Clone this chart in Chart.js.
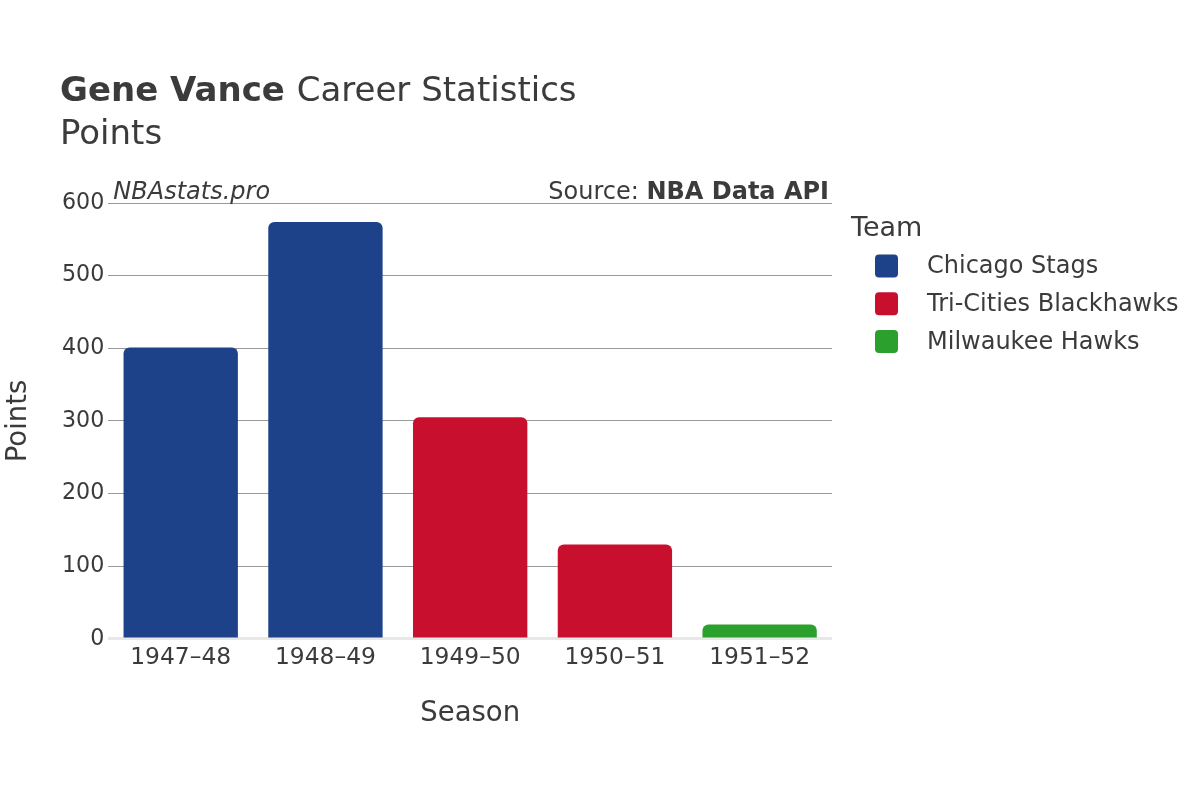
<!DOCTYPE html>
<html>
<head>
<meta charset="utf-8">
<script src="https://cdn.jsdelivr.net/npm/chart.js@4.4.1/dist/chart.umd.min.js"></script>
<style>
  html, body { margin: 0; padding: 0; background: #fff; }
  #wrap { width: 1200px; height: 800px; position: relative; }
</style>
</head>
<body>
<div id="wrap"><canvas id="pointsChart"></canvas></div>
<script>
// Datos del gráfico
const seasons = ['1947\u201348', '1948\u201349', '1949\u201350', '1950\u201351', '1951\u201352'];
const teams = ['Chicago Stags', 'Tri-Cities Blackhawks', 'Milwaukee Hawks'];
const teamColors = ['#1d428a', '#c8102e', '#2ca02c'];
const chicagoPoints = [401, 574, null, null, null];
const triCitiesPoints = [null, null, 305, 130, null];
const milwaukeePoints = [null, null, null, null, 20];
const yTicks = [0, 100, 200, 300, 400, 500, 600];

const FONT = "'DejaVu Sans', sans-serif";
const TEXT = '#3b3b3b';

// Título, marcas de agua y leyenda dibujados a mano
const extrasPlugin = {
  id: 'extras',
  afterDraw(chart) {
    const c = chart.ctx;
    const area = chart.chartArea;
    c.save();
    c.fillStyle = TEXT;
    c.textBaseline = 'alphabetic';
    c.textAlign = 'left';

    // título
    c.font = 'bold 34px ' + FONT;
    c.fillText('Gene Vance', 60, 101);
    const w = c.measureText('Gene Vance ').width;
    c.font = '34px ' + FONT;
    c.fillText('Career Statistics', 60 + w, 101);
    c.fillText('Points', 60, 144);

    // marcas
    c.font = 'italic 24px ' + FONT;
    c.fillText('NBAstats.pro', area.left + 5, 199);
    c.textAlign = 'right';
    c.font = 'bold 24px ' + FONT;
    const srcBold = 'NBA Data API';
    c.fillText(srcBold, area.right - 3, 199);
    const bw = c.measureText(srcBold).width;
    c.font = '24px ' + FONT;
    c.fillText('Source: ', area.right - 3 - bw, 199);

    // leyenda
    c.textAlign = 'left';
    c.font = '27px ' + FONT;
    c.fillText('Team', 851, 236);
    c.font = '24px ' + FONT;
    c.textBaseline = 'middle';
    teams.forEach((name, i) => {
      const cy = 266 + i * 37.7;
      c.fillStyle = teamColors[i];
      c.beginPath();
      c.roundRect(875, cy - 11.5, 23, 23, 4);
      c.fill();
      c.fillStyle = TEXT;
      c.fillText(name, 927, cy + 1);
    });
    c.restore();
  }
};

const seriesValues = [chicagoPoints, triCitiesPoints, milwaukeePoints];

new Chart(document.getElementById('pointsChart'), {
  type: 'bar',
  data: {
    labels: seasons,
    datasets: teams.map((t, i) => ({
      label: t,
      data: seriesValues[i],
      backgroundColor: teamColors[i],
      borderRadius: 6,
      borderSkipped: 'start',
      barPercentage: 0.79,
      categoryPercentage: 1.0
    }))
  },
  options: {
    responsive: true,
    maintainAspectRatio: false,
    animation: false,
    layout: { padding: { top: 203, right: 368, left: 0, bottom: 66 } },
    plugins: {
      legend: { display: false },
      tooltip: { enabled: false }
    },
    scales: {
      x: {
        stacked: true,
        grid: { display: false, drawTicks: false },
        border: { display: false },
        ticks: { color: TEXT, font: { family: FONT, size: 23.4 }, padding: 5 },
        title: { display: true, text: 'Season', color: TEXT, font: { family: FONT, size: 27.5 }, padding: { top: 20, bottom: 4 } }
      },
      y: {
        stacked: true,
        min: 0,
        max: 600,
        afterBuildTicks(scale) { scale.ticks = yTicks.map(v => ({ value: v })); },
        grid: {
          drawTicks: false,
          color: ctx => ctx.tick && ctx.tick.value === 0 ? '#e8e8e8' : '#9a9a9a',
          lineWidth: ctx => ctx.tick && ctx.tick.value === 0 ? 3 : 1
        },
        border: { display: false },
        ticks: { color: TEXT, font: { family: FONT, size: 22.2 }, padding: 4 },
        title: { display: true, text: 'Points', color: TEXT, font: { family: FONT, size: 27.5 }, padding: { top: 2, bottom: 23 } }
      }
    }
  },
  plugins: [extrasPlugin]
});
</script>
</body>
</html>
